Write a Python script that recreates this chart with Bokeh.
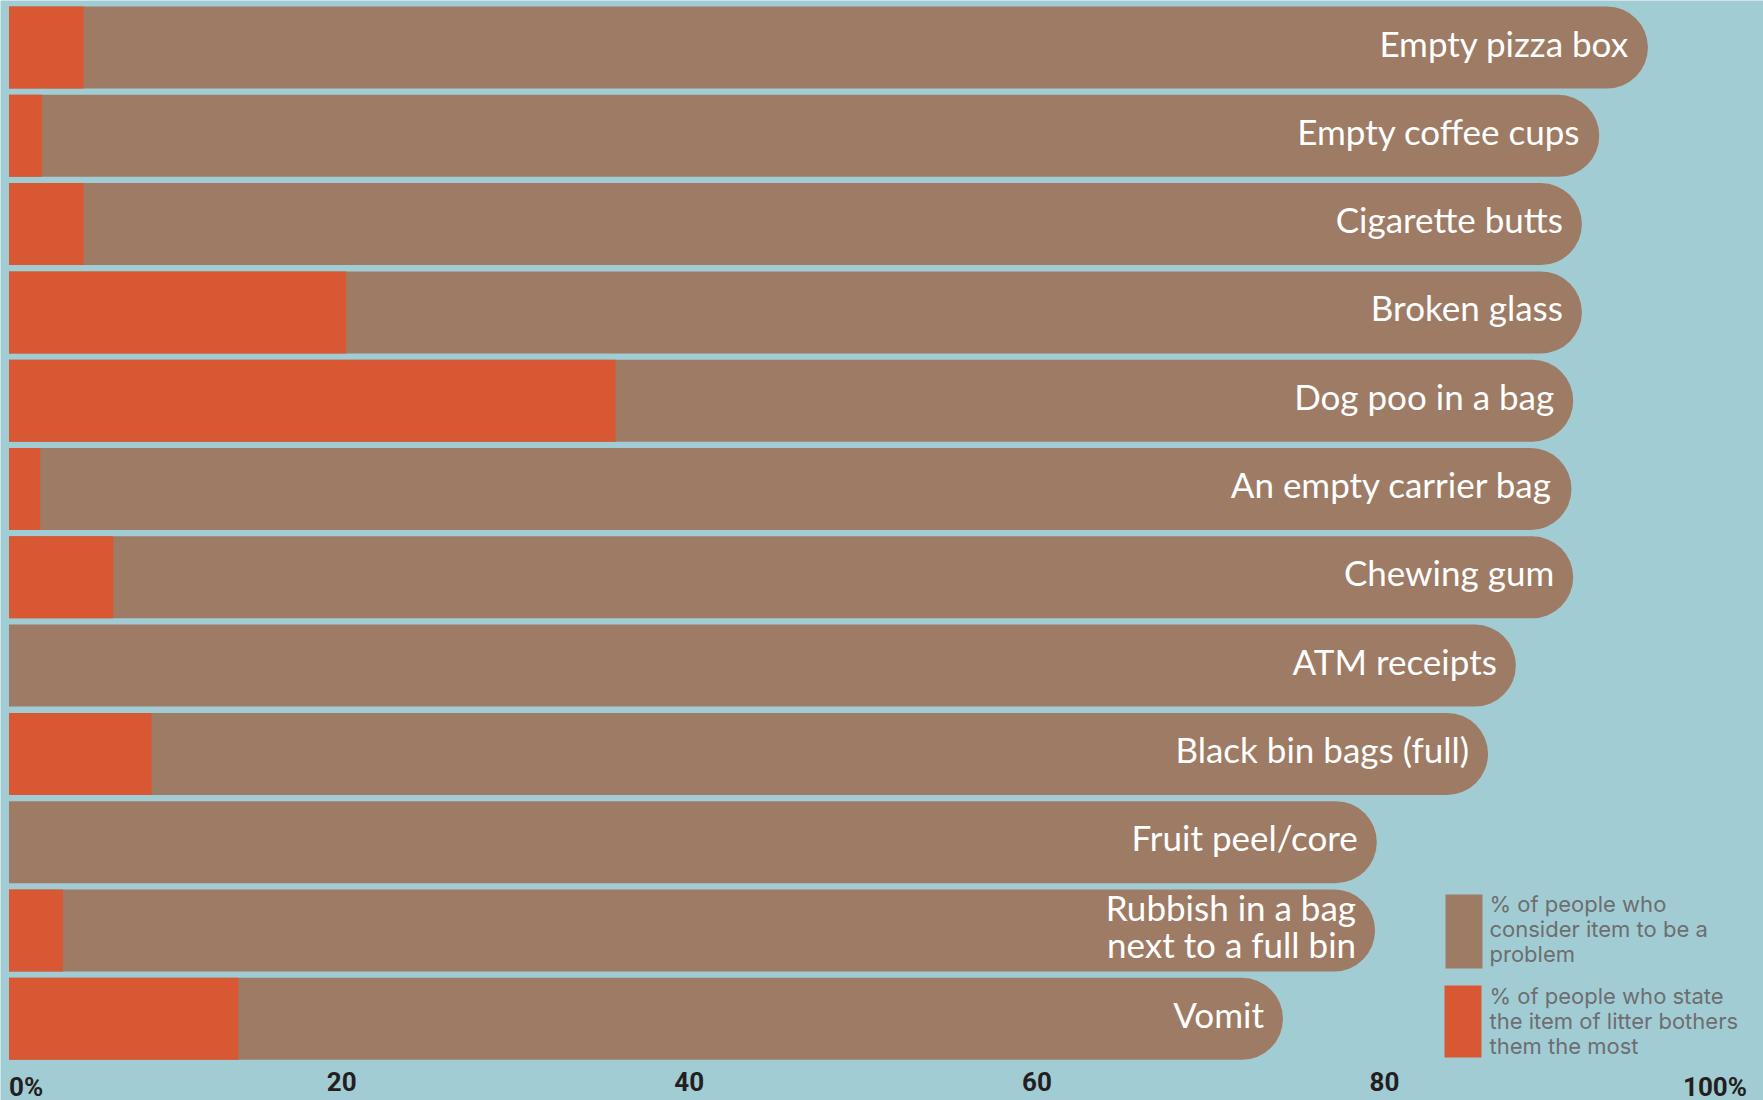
import re
from bokeh.plotting import figure
from bokeh.models import Range1d, ColumnDataSource
from bokeh.core.properties import value
from bokeh.embed import file_html
from bokeh.resources import INLINE

# ---- data ----
categories = [
    "Empty pizza box",
    "Empty coffee cups",
    "Cigarette butts",
    "Broken glass",
    "Dog poo in a bag",
    "An empty carrier bag",
    "Chewing gum",
    "ATM receipts",
    "Black bin bags (full)",
    "Fruit peel/core",
    "Rubbish in a bag\nnext to a full bin",
    "Vomit",
]
problem_pct = [94.3, 91.5, 90.5, 90.5, 90.0, 89.9, 90.0, 86.7, 85.1, 78.7, 78.6, 73.3]
most_pct = [4.3, 1.9, 4.3, 19.4, 34.9, 1.8, 6.0, 0.0, 8.2, 0.0, 3.1, 13.2]

tick_values = [0, 20, 40, 60, 80, 100]
tick_labels = ["0%", "20", "40", "60", "80", "100%"]

legend_labels = [
    "% of people who\nconsider item to be a\nproblem",
    "% of people who state\nthe item of litter bothers\nthem the most",
]

# ---- style ----
BG = "#a2ccd4"
BROWN = "#9e7b64"
ORANGE = "#d95834"
LEGEND_TEXT = "#6d6e70"
TICK_TEXT = "#231f20"

W, H = 1763, 1100
PX_PER_UNIT = 17.38
X0_PX = 8.5
PITCH = 88.3
FIRST_CENTER = 47
BAR_PX = 82


def y_of_px(py):
    return (py - FIRST_CENTER) / PITCH


def x_of_px(px):
    return (px - X0_PX) / PX_PER_UNIT


p = figure(
    width=W, height=H, output_backend="svg", toolbar_location=None,
    x_range=Range1d(x_of_px(0), x_of_px(W)), y_range=Range1d(y_of_px(H), y_of_px(0)),
    x_axis_location=None, y_axis_location=None, min_border=0,
)
p.grid.visible = False
p.outline_line_color = None
p.background_fill_color = BG
p.border_fill_color = BG

idx = list(range(len(categories)))
src = ColumnDataSource(dict(idx=idx, cat=categories, problem=problem_pct, most=most_pct))

bar_h = BAR_PX / PITCH
p.hbar(y="idx", left=0, right="problem", height=bar_h, source=src,
       fill_color=BROWN, line_color=None, border_radius=(0, 41, 41, 0))
p.hbar(y="idx", left=0, right="most", height=bar_h, source=src,
       fill_color=ORANGE, line_color=None)

p.text(x="problem", y="idx", text="cat", source=src, x_offset=-19, y_offset=-5,
       text_align="right", text_baseline="middle", text_color="white",
       text_font=value("Lato"), text_font_size="35px", text_line_height=0.86)

# tick labels
tick_src = ColumnDataSource(dict(
    x=tick_values, t=tick_labels,
    align=["left"] + ["right"] * (len(tick_values) - 1),
    y=[y_of_px(1071)] * len(tick_values),
))
p.text(x="x", y="y", text="t", text_align="align", source=tick_src,
       text_baseline="top", text_color=TICK_TEXT,
       text_font=value("Roboto"), text_font_style="bold", text_font_size="26px")

# legend
leg_src = ColumnDataSource(dict(
    left=[x_of_px(1445), x_of_px(1444)],
    right=[x_of_px(1482), x_of_px(1481)],
    top=[y_of_px(894), y_of_px(985)],
    bottom=[y_of_px(968), y_of_px(1057)],
    color=[BROWN, ORANGE],
    tx=[x_of_px(1489), x_of_px(1489)],
    ty=[y_of_px(890), y_of_px(982)],
    label=legend_labels,
))
p.quad(left="left", right="right", top="top", bottom="bottom", source=leg_src,
       fill_color="color", line_color=None)
p.text(x="tx", y="ty", text="label", source=leg_src, text_align="left",
       text_baseline="top", text_color=LEGEND_TEXT, text_font=value("Inter"),
       text_font_size="22px", text_line_height=0.98)

html = file_html(p, INLINE)
html = re.sub(r"<body([^>]*)>", r'<body\1 style="background-color:%s;">' % BG, html, count=1)
open("out.html", "w").write(html)
